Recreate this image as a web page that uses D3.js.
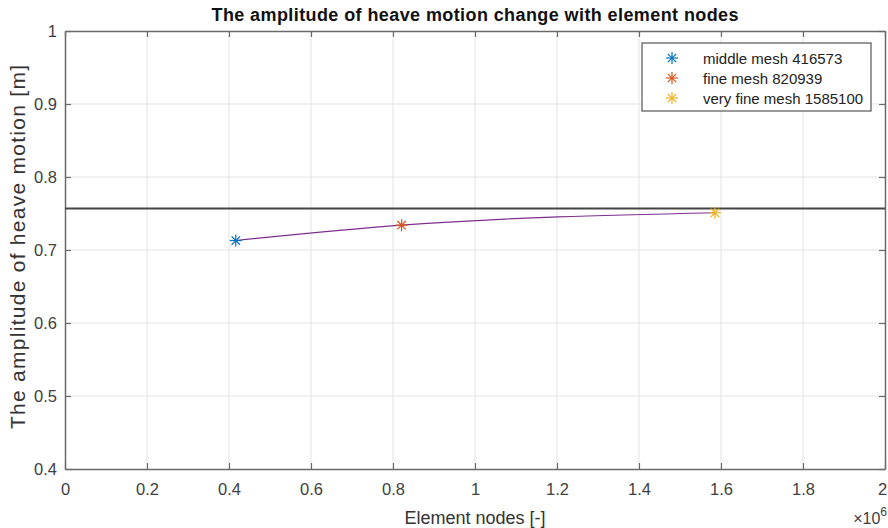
<!DOCTYPE html>
<html>
<head>
<meta charset="UTF-8">
<title>Heave motion amplitude vs element nodes</title>
<script src="https://d3js.org/d3.v7.min.js"></script>
<style>
  body { margin: 0; background: #fff; }
  text { font-family: "Liberation Sans", Arial, sans-serif; }
</style>
</head>
<body>
<script>
// mesh data
var meshNames = ["middle mesh 416573", "fine mesh 820939", "very fine mesh 1585100"];
var meshNodes = [416573, 820939, 1585100];
var amplitude = [0.713, 0.734, 0.751];
var meshColors = ["#0072BD", "#D95319", "#EDB120"];
var refAmplitude = 0.757;   // horizontal reference line

var xTicks = [0, 0.2, 0.4, 0.6, 0.8, 1, 1.2, 1.4, 1.6, 1.8, 2];
var yTicks = [0.4, 0.5, 0.6, 0.7, 0.8, 0.9, 1];

var W = 888, H = 528;
var margin = {top: 31, right: 3, bottom: 59, left: 65};
var width = W - margin.left - margin.right;
var height = H - margin.top - margin.bottom;

var svg = d3.select("body").append("svg")
    .attr("width", W)
    .attr("height", H);

var g = svg.append("g")
    .attr("transform", "translate(" + margin.left + "," + margin.top + ")");

var x = d3.scaleLinear().domain([0, 2e6]).range([0, width]);
var y = d3.scaleLinear().domain([0.4, 1]).range([height, 0]);

// grid
g.append("g").selectAll("line").data(xTicks.slice(1, -1)).enter().append("line")
    .attr("x1", function(d) { return x(d * 1e6); })
    .attr("x2", function(d) { return x(d * 1e6); })
    .attr("y1", 0).attr("y2", height)
    .attr("stroke", "#e3e3e3").attr("stroke-width", 1);
g.append("g").selectAll("line").data(yTicks.slice(1, -1)).enter().append("line")
    .attr("y1", function(d) { return y(d); })
    .attr("y2", function(d) { return y(d); })
    .attr("x1", 0).attr("x2", width)
    .attr("stroke", "#e3e3e3").attr("stroke-width", 1);

// axes (ticks inward, box on)
var axisColor = "#6a6a6a";
var xAxis = d3.axisBottom(x).tickValues(xTicks.map(function(d) { return d * 1e6; }))
    .tickFormat(function(d) { return d3.format("~g")(d / 1e6); })
    .tickSizeInner(-6).tickSizeOuter(0).tickPadding(14);
var yAxis = d3.axisLeft(y).tickValues(yTicks).tickFormat(d3.format("~g"))
    .tickSizeInner(-6).tickSizeOuter(0).tickPadding(8);

var gx = g.append("g").attr("transform", "translate(0," + height + ")").call(xAxis);
var gy = g.append("g").call(yAxis);
var gxTop = g.append("g").call(d3.axisTop(x).tickValues(xTicks.map(function(d) { return d * 1e6; }))
    .tickFormat("").tickSizeInner(-6).tickSizeOuter(0));
var gyRight = g.append("g").attr("transform", "translate(" + width + ",0)")
    .call(d3.axisRight(y).tickValues(yTicks).tickFormat("").tickSizeInner(-6).tickSizeOuter(0));

[gx, gy, gxTop, gyRight].forEach(function(a) {
  a.select(".domain").attr("stroke", axisColor).attr("stroke-width", 1.5);
  a.selectAll(".tick line").attr("stroke", axisColor).attr("stroke-width", 1.2);
  a.selectAll(".tick text").attr("fill", "#404040")
    .style("font-size", "16.5px").style("font-family", "Liberation Sans, Arial, sans-serif");
});
// last x label sits at the page edge, nudge it in
gx.selectAll(".tick text").filter(function(d) { return d === 2e6; }).attr("dx", -3);

// reference line
g.append("line")
    .attr("x1", 0).attr("x2", width)
    .attr("y1", y(refAmplitude)).attr("y2", y(refAmplitude))
    .attr("stroke", "#444").attr("stroke-width", 2);

// fitted curve
var pts = meshNodes.map(function(n, i) { return [n, amplitude[i]]; });
g.append("path")
    .datum(pts)
    .attr("fill", "none")
    .attr("stroke", "#7E2F8E")
    .attr("stroke-width", 1.2)
    .attr("d", d3.line()
        .x(function(d) { return x(d[0]); })
        .y(function(d) { return y(d[1]); })
        .curve(d3.curveMonotoneX));

// asterisk marker
function asterisk(sel, cx, cy, r, color) {
  var a = sel.append("g").attr("transform", "translate(" + cx + "," + cy + ")")
      .attr("stroke", color).attr("stroke-width", 1.2);
  a.append("line").attr("x1", -r).attr("x2", r).attr("y1", 0).attr("y2", 0);
  a.append("line").attr("x1", 0).attr("x2", 0).attr("y1", -r).attr("y2", r);
  var k = r * 0.7;
  a.append("line").attr("x1", -k).attr("x2", k).attr("y1", -k).attr("y2", k);
  a.append("line").attr("x1", -k).attr("x2", k).attr("y1", k).attr("y2", -k);
}

meshNodes.forEach(function(n, i) {
  asterisk(g, x(n), y(amplitude[i]), 6, meshColors[i]);
});

// legend
var lg = g.append("g").attr("transform", "translate(" + (642 - margin.left) + "," + (43 - margin.top) + ")");
lg.append("rect").attr("width", 229).attr("height", 68)
    .attr("fill", "#fff").attr("stroke", "#555").attr("stroke-width", 1.2);
meshNames.forEach(function(name, i) {
  var ry = 15 + i * 20;
  asterisk(lg, 30, ry, 6, meshColors[i]);
  lg.append("text").attr("x", 61).attr("y", ry + 5.5)
      .attr("fill", "#222").style("font-size", "15px").text(name);
});

// title and labels
svg.append("text")
    .attr("x", margin.left + width / 2).attr("y", 21)
    .attr("text-anchor", "middle")
    .attr("textLength", 527).attr("lengthAdjust", "spacing")
    .style("font-size", "18px").style("font-weight", "bold")
    .attr("fill", "#111")
    .text("The amplitude of heave motion change with element nodes");

svg.append("text")
    .attr("x", margin.left + width / 2).attr("y", 524)
    .attr("text-anchor", "middle")
    .style("font-size", "18px").attr("fill", "#333")
    .text("Element nodes [-]");

svg.append("text")
    .attr("transform", "translate(25,247) rotate(-90)")
    .attr("text-anchor", "middle")
    .attr("textLength", 364).attr("lengthAdjust", "spacing")
    .style("font-size", "21px").attr("fill", "#333")
    .text("The amplitude of heave motion [m]");

var ex = svg.append("text")
    .attr("x", 887).attr("y", 524)
    .attr("text-anchor", "end")
    .style("font-size", "16px").attr("fill", "#404040");
ex.append("tspan").text("\u00d710");
ex.append("tspan").attr("dy", -8).style("font-size", "12px").text("6");
</script>
</body>
</html>
